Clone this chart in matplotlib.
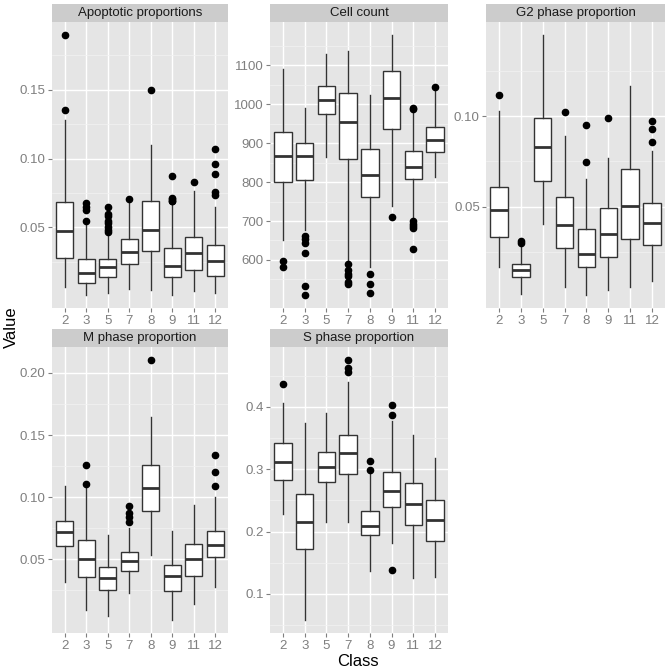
import matplotlib
matplotlib.use("Agg")
import matplotlib.pyplot as plt

plt.rcParams['font.family'] = ['Liberation Sans', 'DejaVu Sans']

classes = ["2", "3", "5", "7", "8", "9", "11", "12"]

# per class: (lower whisker, Q1, median, Q3, upper whisker)
apo_stats = [
    (0.0065, 0.028, 0.0476, 0.0684, 0.128),
    (0.0012, 0.0097, 0.0167, 0.0273, 0.052),
    (0.0022, 0.0143, 0.021, 0.0268, 0.0457),
    (0.0051, 0.0234, 0.0324, 0.0415, 0.068),
    (0.0046, 0.0329, 0.048, 0.069, 0.110),
    (0.001, 0.014, 0.0222, 0.0353, 0.0669),
    (0.0039, 0.0191, 0.0316, 0.0428, 0.0766),
    (0.0022, 0.0147, 0.0256, 0.037, 0.0645),
]
apo_out = [
    [0.190, 0.135],
    [0.068, 0.065, 0.063, 0.0546],
    [0.065, 0.060, 0.058, 0.055, 0.053, 0.050, 0.048, 0.047],
    [0.0705],
    [0.150],
    [0.0874, 0.0715, 0.0705, 0.0695, 0.069],
    [0.0831],
    [0.1068, 0.096, 0.0889, 0.076, 0.0732],
]

cell_stats = [
    (650, 800, 868, 928, 1091),
    (676, 806, 868, 900, 991),
    (865, 976, 1011, 1048, 1130),
    (597, 858, 954, 1029, 1136),
    (582, 762, 819, 886, 1023),
    (738, 937, 1016, 1085, 1179),
    (705, 808, 839, 879, 980),
    (813, 877, 909, 941, 1033),
]
cell_out = [
    [597, 582],
    [662, 655, 644, 619, 532, 510],
    [],
    [589, 573, 565, 558, 544, 538],
    [565, 538, 514],
    [710],
    [990, 988, 699, 693, 686, 681, 628],
    [1043],
]

g2_stats = [
    (0.0169, 0.0335, 0.0483, 0.0607, 0.1029),
    (0.0018, 0.0114, 0.0151, 0.0186, 0.0279),
    (0.0404, 0.0642, 0.0827, 0.0991, 0.145),
    (0.0055, 0.0274, 0.0397, 0.0553, 0.089),
    (0.0013, 0.0167, 0.0239, 0.0375, 0.0653),
    (0.004, 0.022, 0.0347, 0.0493, 0.077),
    (0.0055, 0.0324, 0.0505, 0.071, 0.1167),
    (0.0092, 0.0287, 0.0408, 0.0518, 0.0809),
]
g2_out = [
    [0.1116],
    [0.031, 0.0298],
    [],
    [0.1024],
    [0.0952, 0.0748],
    [0.0991],
    [],
    [0.0974, 0.0928, 0.0858],
]

m_stats = [
    (0.0321, 0.0607, 0.072, 0.0808, 0.1092),
    (0.0093, 0.0358, 0.050, 0.0656, 0.109),
    (0.0048, 0.0251, 0.035, 0.0439, 0.0696),
    (0.0227, 0.0404, 0.049, 0.0562, 0.075),
    (0.0535, 0.0886, 0.1076, 0.126, 0.1646),
    (0.0013, 0.0243, 0.0366, 0.0457, 0.0728),
    (0.0141, 0.0369, 0.0506, 0.0621, 0.094),
    (0.028, 0.0519, 0.0618, 0.0725, 0.1004),
]
m_out = [
    [],
    [0.126, 0.111],
    [],
    [0.0932, 0.0875, 0.0838, 0.0803],
    [0.2107],
    [],
    [],
    [0.1339, 0.1205, 0.1087],
]

s_stats = [
    (0.2283, 0.2829, 0.3123, 0.3422, 0.4059),
    (0.0583, 0.1722, 0.216, 0.261, 0.3738),
    (0.216, 0.2791, 0.3032, 0.3273, 0.3909),
    (0.216, 0.2925, 0.3257, 0.3545, 0.4396),
    (0.1374, 0.1941, 0.2096, 0.2337, 0.2925),
    (0.1824, 0.2396, 0.2658, 0.2963, 0.3781),
    (0.1251, 0.2112, 0.2449, 0.2786, 0.3551),
    (0.1278, 0.185, 0.2182, 0.2513, 0.3176),
]
s_out = [
    [0.4364],
    [],
    [],
    [0.4759, 0.463, 0.4556],
    [0.3139, 0.2989],
    [0.4032, 0.3872, 0.1385],
    [],
    [],
]

W = H = 670.0
GREY_TXT = "#7F7F7F"


def add_panel(fig, x0, x1, y0, y1, title, stats, outs, ticks, fmt):
    ax = fig.add_axes([x0 / W, 1 - y1 / H, (x1 - x0) / W, (y1 - y0) / H])
    strip = fig.add_axes([x0 / W, 1 - y0 / H, (x1 - x0) / W, 17.5 / H])

    bstats = []
    for lab, s, o in zip(classes, stats, outs):
        bstats.append(dict(label=lab, whislo=s[0], q1=s[1], med=s[2],
                           q3=s[3], whishi=s[4], fliers=o))
    pos = list(range(1, len(classes) + 1))
    ax.bxp(bstats, positions=pos, widths=0.8, patch_artist=True,
           showcaps=False, manage_ticks=False,
           boxprops=dict(facecolor="white", edgecolor="#333333", linewidth=1.0),
           whiskerprops=dict(color="#333333", linewidth=1.0),
           medianprops=dict(color="#333333", linewidth=2.0),
           flierprops=dict(marker="o", markerfacecolor="black",
                           markeredgecolor="black", markersize=4.5,
                           linestyle="none"))

    vals = []
    for s, o in zip(stats, outs):
        vals += list(s) + list(o)
    lo, hi = min(vals), max(vals)
    pad = (hi - lo) * 0.05
    ax.set_ylim(lo - pad, hi + pad)
    ax.set_xlim(0.4, len(classes) + 0.6)

    step = ticks[1] - ticks[0]
    minor = [ticks[0] - step / 2] + [t + step / 2 for t in ticks]
    minor = [m for m in minor if lo - pad < m < hi + pad]

    ax.set_facecolor("#E5E5E5")
    ax.set_yticks(ticks)
    ax.set_yticklabels([fmt % t for t in ticks])
    ax.set_yticks(minor, minor=True)
    ax.set_xticks(pos)
    ax.set_xticklabels(classes)
    ax.set_axisbelow(True)
    ax.grid(which="major", color="white", linewidth=1.0)
    ax.grid(which="minor", axis="y", color="#F2F2F2", linewidth=0.5)
    for sp in ax.spines.values():
        sp.set_visible(False)
    ax.tick_params(which="major", color=GREY_TXT, labelcolor=GREY_TXT,
                   labelsize=9.5, length=3, width=0.8)
    ax.tick_params(axis="x", pad=2)
    ax.tick_params(axis="y", pad=1.5)
    ax.tick_params(which="minor", length=0)

    strip.set_facecolor("#CCCCCC")
    strip.set_xticks([])
    strip.set_yticks([])
    for sp in strip.spines.values():
        sp.set_visible(False)
    strip.text(0.5, 0.47, title, ha="center", va="center", fontsize=9.5,
               color="#1A1A1A", transform=strip.transAxes)
    return ax


def main():
    fig = plt.figure(figsize=(6.7, 6.7), dpi=100)
    fig.patch.set_facecolor("white")

    cols = [(52, 228), (270, 448), (486, 665)]
    top = (21.5, 308)
    bot = (346.5, 633)

    add_panel(fig, cols[0][0], cols[0][1], top[0], top[1],
              "Apoptotic proportions", apo_stats, apo_out,
              [0.05, 0.10, 0.15], "%.2f")
    add_panel(fig, cols[1][0], cols[1][1], top[0], top[1],
              "Cell count", cell_stats, cell_out,
              [600, 700, 800, 900, 1000, 1100], "%d")
    add_panel(fig, cols[2][0], cols[2][1], top[0], top[1],
              "G2 phase proportion", g2_stats, g2_out,
              [0.05, 0.10], "%.2f")
    add_panel(fig, cols[0][0], cols[0][1], bot[0], bot[1],
              "M phase proportion", m_stats, m_out,
              [0.05, 0.10, 0.15, 0.20], "%.2f")
    add_panel(fig, cols[1][0], cols[1][1], bot[0], bot[1],
              "S phase proportion", s_stats, s_out,
              [0.1, 0.2, 0.3, 0.4], "%.1f")

    fig.text(358 / W, 1 - 661 / H, "Class", ha="center", va="center",
             fontsize=12, color="black")
    fig.text(11 / W, 1 - 327 / H, "Value", ha="center", va="center",
             rotation=90, fontsize=12, color="black")

    fig.savefig("out.png", dpi=100)


if __name__ == "__main__":
    main()
